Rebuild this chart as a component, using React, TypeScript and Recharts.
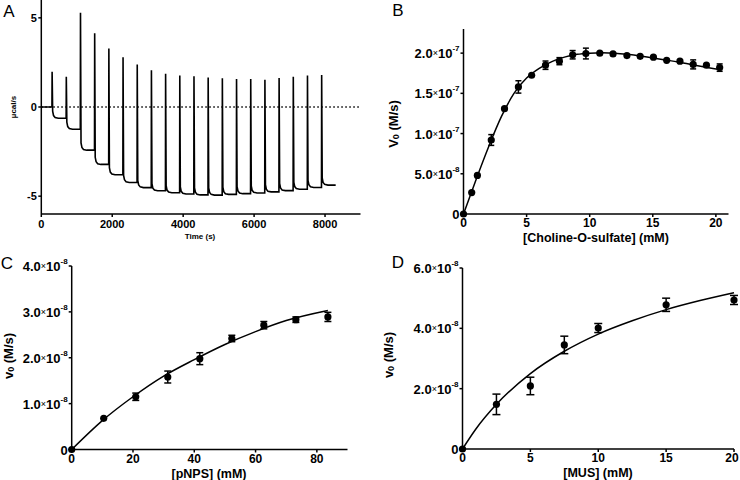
import React from 'react'
import { ComposedChart, LineChart, Line, Scatter, ErrorBar, XAxis, YAxis, ReferenceLine } from 'recharts'

const FONT = '"Liberation Sans", Arial, Helvetica, sans-serif'

// A: ITC thermogram, [time (s), power (µcal/s)]
const itcTrace: [number, number][] = [
    [0, 0], [300, 0],
    [305, 1.97], [320, -0.23], [345, -0.48], [390, -0.59], [480, -0.63],
    [700, -0.63], [705, 1.7], [720, -0.85], [745, -1.1], [790, -1.21], [880, -1.25],
    [1100, -1.25], [1105, 5.28], [1120, -2.02], [1145, -2.27], [1190, -2.38], [1280, -2.42],
    [1500, -2.42], [1505, 4.14], [1520, -2.82], [1545, -3.07], [1590, -3.18], [1680, -3.22],
    [1900, -3.22], [1905, 3.28], [1920, -3.4], [1945, -3.65], [1990, -3.76], [2080, -3.8],
    [2300, -3.8], [2305, 2.79], [2320, -3.83], [2345, -4.08], [2390, -4.19], [2480, -4.23],
    [2700, -4.23], [2705, 2.38], [2720, -4.12], [2745, -4.37], [2790, -4.48], [2880, -4.52],
    [3100, -4.52], [3105, 2.06], [3120, -4.3], [3145, -4.55], [3190, -4.66], [3280, -4.7],
    [3500, -4.7], [3505, 1.87], [3520, -4.41], [3545, -4.66], [3590, -4.77], [3680, -4.81],
    [3900, -4.81], [3905, 1.76], [3920, -4.48], [3945, -4.73], [3990, -4.84], [4080, -4.88],
    [4300, -4.88], [4305, 1.72], [4320, -4.53], [4345, -4.78], [4390, -4.89], [4480, -4.93],
    [4700, -4.93], [4705, 1.65], [4720, -4.54], [4745, -4.79], [4790, -4.9], [4880, -4.94],
    [5100, -4.94], [5105, 1.61], [5120, -4.5], [5145, -4.75], [5190, -4.86], [5280, -4.9],
    [5500, -4.9], [5505, 1.57], [5520, -4.46], [5545, -4.71], [5590, -4.82], [5680, -4.86],
    [5900, -4.86], [5905, 1.57], [5920, -4.42], [5945, -4.67], [5990, -4.78], [6080, -4.82],
    [6300, -4.82], [6305, 1.53], [6320, -4.36], [6345, -4.61], [6390, -4.72], [6480, -4.76],
    [6700, -4.76], [6705, 1.63], [6720, -4.29], [6745, -4.54], [6790, -4.65], [6880, -4.69],
    [7100, -4.69], [7105, 1.7], [7120, -4.21], [7145, -4.46], [7190, -4.57], [7280, -4.61],
    [7500, -4.61], [7505, 1.76], [7520, -4.11], [7545, -4.36], [7590, -4.47], [7680, -4.51],
    [7900, -4.51], [7905, 1.8], [7920, -3.98], [7945, -4.23], [7990, -4.34], [8080, -4.38],
    [8300, -4.38],
]
const itcXTicks = [0, 2000, 4000, 6000, 8000]
const itcYTicks = [-5, 0, 5]

// B: choline-O-sulfate
const cosConc = [0, 0.65, 1.1, 2.2, 3.25, 4.35, 5.4, 6.5, 7.6, 8.65, 9.7, 10.8, 11.85, 12.95, 14.0, 15.05, 16.1, 17.15, 18.2, 19.25, 20.3]
const cosRate = [0, 2.66e-8, 4.79e-8, 9.2e-8, 1.31e-7, 1.58e-7, 1.725e-7, 1.85e-7, 1.9e-7, 1.98e-7, 1.995e-7, 2.0e-7, 1.99e-7, 1.97e-7, 1.96e-7, 1.95e-7, 1.91e-7, 1.9e-7, 1.86e-7, 1.85e-7, 1.82e-7]
const cosErr = [0, 0, 0, 0.67e-8, 0, 0.77e-8, 0, 0.52e-8, 0.44e-8, 0.52e-8, 0.67e-8, 0, 0, 0, 0, 0, 0, 0, 0.56e-8, 0, 0.46e-8]
const cosFitConc = [0, 1, 2, 3, 4, 5, 6, 7, 8, 9, 10, 11, 12, 13, 14, 15, 16, 17, 18, 19, 20.3]
const cosFitRate = [0, 4.3e-8, 8.4e-8, 1.21e-7, 1.5e-7, 1.69e-7, 1.81e-7, 1.895e-7, 1.95e-7, 1.985e-7, 2.0e-7, 2.005e-7, 2.0e-7, 1.985e-7, 1.965e-7, 1.94e-7, 1.915e-7, 1.89e-7, 1.86e-7, 1.83e-7, 1.795e-7]
const cosXTicks = [0, 5, 10, 15, 20]
const cosYTicks = [0, 5e-8, 1e-7, 1.5e-7, 2e-7]
const cosYLabels = [['0', ''], ['5.0', '-8'], ['1.0', '-7'], ['1.5', '-7'], ['2.0', '-7']]

// C: pNPS
const pnpsConc = [0, 10.45, 20.9, 31.35, 41.8, 52.25, 62.7, 73.15, 83.6]
const pnpsRate = [0, 0.68e-8, 1.15e-8, 1.58e-8, 1.98e-8, 2.42e-8, 2.71e-8, 2.83e-8, 2.89e-8]
const pnpsErr = [0, 0, 0.08e-8, 0.13e-8, 0.13e-8, 0.07e-8, 0.08e-8, 0.06e-8, 0.1e-8]
const pnpsFitConc = [0, 10, 20, 30, 40, 50, 60, 70, 83.6]
const pnpsFitRate = [0, 0.63e-8, 1.15e-8, 1.6e-8, 1.96e-8, 2.29e-8, 2.57e-8, 2.81e-8, 3.03e-8]
const pnpsXTicks = [0, 20, 40, 60, 80]
const pnpsYTicks = [0, 1e-8, 2e-8, 3e-8, 4e-8]
const pnpsYLabels = [['0', ''], ['1.0', '-8'], ['2.0', '-8'], ['3.0', '-8'], ['4.0', '-8']]

// D: MUS
const musConc = [0, 2.5, 5, 7.5, 10, 15, 20]
const musRate = [0, 1.48e-8, 2.09e-8, 3.45e-8, 4.01e-8, 4.78e-8, 4.94e-8]
const musErr = [0, 0.34e-8, 0.29e-8, 0.29e-8, 0.15e-8, 0.22e-8, 0.15e-8]
const musFitConc = [0, 1, 2.5, 5, 7.5, 10, 12.5, 15, 17.5, 20]
const musFitRate = [0, 0.67e-8, 1.48e-8, 2.5e-8, 3.24e-8, 3.81e-8, 4.25e-8, 4.62e-8, 4.92e-8, 5.18e-8]
const musXTicks = [0, 5, 10, 15, 20]
const musYTicks = [0, 2e-8, 4e-8, 6e-8]
const musYLabels = [['0', ''], ['2.0', '-8'], ['4.0', '-8'], ['6.0', '-8']]

const toPoints = (xs: number[], ys: number[], errs?: number[]) =>
    xs.map((x, i) => ({ x, y: ys[i], err: errs ? errs[i] : 0 }))

const XTick = ({ x, y, payload, size }: any) => (
    <text x={x} y={y} dy="0.71em" textAnchor="middle" fontFamily={FONT} fontSize={size} fontWeight="bold" fill="#000">
        {payload.value}
    </text>
)

const PlainYTick = ({ x, y, payload }: any) => (
    <text x={x} y={y} textAnchor="end" dominantBaseline="central" fontFamily={FONT} fontSize={11} fontWeight="bold" fill="#000">
        {payload.value}
    </text>
)

// y tick like "2.0×10-7" with superscript exponent
const SciTick = ({ x, y, payload, ticks, labels }: any) => {
    const i = ticks.findIndex((t: number) => Math.abs(t - payload.value) < 1e-12)
    const [m, e] = labels[i] || [String(payload.value), '']
    return (
        <text x={x} y={y} textAnchor="end" dominantBaseline="central" fontFamily={FONT} fill="#000">
            <tspan fontSize={13} fontWeight="bold">{m}</tspan>
            {e && <tspan fontSize={9}>×</tspan>}
            {e && <tspan fontSize={13} fontWeight="bold">10</tspan>}
            {e && <tspan fontSize={8} fontWeight="bold" dy={-5}>{e}</tspan>}
        </text>
    )
}

const Dot = (p: any) => <circle cx={p.cx} cy={p.cy} r={3.6} fill="#000" />

const axisStyle = { stroke: '#000', strokeWidth: 1.5 }

function KineticsPanel({ width, height, margin, yWidth, xHeight, xTickMargin, xDomain, yDomain, xTicks, yTicks, yLabels, points, fit, capWidth }: any) {
    return (
        <ComposedChart width={width} height={height} margin={margin}>
            <XAxis
                type="number"
                dataKey="x"
                domain={xDomain}
                ticks={xTicks}
                axisLine={axisStyle}
                tickLine={axisStyle}
                tickSize={3}
                tickMargin={xTickMargin}
                height={xHeight}
                tick={<XTick size={12} />}
            />
            <YAxis
                type="number"
                dataKey="y"
                domain={yDomain}
                ticks={yTicks}
                width={yWidth}
                axisLine={axisStyle}
                tickLine={axisStyle}
                tickSize={3}
                tickMargin={1}
                tick={<SciTick ticks={yTicks} labels={yLabels} />}
            />
            <Line data={fit} dataKey="y" type="monotone" stroke="#000" strokeWidth={1.5} dot={false} activeDot={false} isAnimationActive={false} />
            <Scatter data={points} dataKey="y" fill="#000" shape={Dot} isAnimationActive={false}>
                <ErrorBar dataKey="err" direction="y" width={capWidth} stroke="#000" strokeWidth={1.5} isAnimationActive={false} />
            </Scatter>
        </ComposedChart>
    )
}

export default function App() {
    const itcData = itcTrace.map(([t, v]) => ({ t, v }))
    const cosPoints = toPoints(cosConc, cosRate, cosErr)
    const cosFit = toPoints(cosFitConc, cosFitRate)
    const pnpsPoints = toPoints(pnpsConc, pnpsRate, pnpsErr)
    const pnpsFit = toPoints(pnpsFitConc, pnpsFitRate)
    const musPoints = toPoints(musConc, musRate, musErr)
    const musFit = toPoints(musFitConc, musFitRate)

    const bold = { fontFamily: FONT, fontWeight: 'bold' as const, fill: '#000' }

    return (
        <div style={{ position: 'absolute', left: 0, top: 0, width: 740, height: 480, background: '#fff', fontFamily: FONT }}>
            {/* A */}
            <div style={{ position: 'absolute', left: 0, top: 0 }}>
                <LineChart width={370} height={245} margin={{ top: 0, right: 9.5, left: 0, bottom: 0 }} data={itcData}>
                    <XAxis
                        type="number"
                        dataKey="t"
                        domain={[0, 9000]}
                        ticks={itcXTicks}
                        axisLine={axisStyle}
                        tickLine={axisStyle}
                        tickSize={3}
                        tickMargin={3.5}
                        height={31}
                        tick={<XTick size={11} />}
                    />
                    <YAxis
                        type="number"
                        domain={[-6, 6]}
                        ticks={itcYTicks}
                        width={41.3}
                        axisLine={axisStyle}
                        tickLine={axisStyle}
                        tickSize={3}
                        tickMargin={1.5}
                        tick={<PlainYTick />}
                    />
                    <ReferenceLine y={0} stroke="#000" strokeWidth={1.5} strokeDasharray="1.5 2.5" />
                    <Line dataKey="v" type="linear" stroke="#000" strokeWidth={1.6} dot={false} activeDot={false} isAnimationActive={false} />
                </LineChart>
            </div>

            {/* B */}
            <div style={{ position: 'absolute', left: 370, top: 0 }}>
                <KineticsPanel
                    width={370} height={245}
                    margin={{ top: 29, right: 11.5, left: 0, bottom: 0 }}
                    yWidth={93.5} xHeight={31} xTickMargin={1}
                    xDomain={[0, 21]} yDomain={[0, 2.3e-7]}
                    xTicks={cosXTicks} yTicks={cosYTicks} yLabels={cosYLabels}
                    points={cosPoints} fit={cosFit} capWidth={3}
                />
            </div>

            {/* C */}
            <div style={{ position: 'absolute', left: 0, top: 245 }}>
                <KineticsPanel
                    width={370} height={235}
                    margin={{ top: 21, right: 22.5, left: 0, bottom: 0 }}
                    yWidth={71.7} xHeight={30.5} xTickMargin={1.5}
                    xDomain={[0, 90]} yDomain={[0, 4e-8]}
                    xTicks={pnpsXTicks} yTicks={pnpsYTicks} yLabels={pnpsYLabels}
                    points={pnpsPoints} fit={pnpsFit} capWidth={3.5}
                />
            </div>

            {/* D */}
            <div style={{ position: 'absolute', left: 370, top: 245 }}>
                <KineticsPanel
                    width={370} height={235}
                    margin={{ top: 23, right: 6, left: 0, bottom: 0 }}
                    yWidth={92.5} xHeight={31} xTickMargin={1}
                    xDomain={[0, 20]} yDomain={[0, 6e-8]}
                    xTicks={musXTicks} yTicks={musYTicks} yLabels={musYLabels}
                    points={musPoints} fit={musFit} capWidth={4}
                />
            </div>

            {/* panel letters and axis titles */}
            <svg width={740} height={480} style={{ position: 'absolute', left: 0, top: 0, pointerEvents: 'none' }}>
                <g fontFamily={FONT} fontSize={17} fill="#000" textAnchor="middle" dominantBaseline="central">
                    <text x={9} y={11}>A</text>
                    <text x={398} y={10}>B</text>
                    <text x={7} y={263}>C</text>
                    <text x={398} y={262}>D</text>
                </g>
                <text {...bold} fontSize={8} x={13} y={107} textAnchor="middle" dominantBaseline="central" transform="rotate(-90 13 107)">µcal/s</text>
                <text {...bold} fontSize={8} x={200} y={236} textAnchor="middle" dominantBaseline="central">Time (s)</text>

                <text {...bold} fontSize={13} x={393} y={124} textAnchor="middle" dominantBaseline="central" transform="rotate(-90 393 124)">
                    V<tspan fontSize={9} dy={3}>0</tspan><tspan dy={-3}> (M/s)</tspan>
                </text>
                <text {...bold} fontSize={12.5} x={596} y={238} textAnchor="middle" dominantBaseline="central">[Choline-O-sulfate] (mM)</text>

                <text {...bold} fontSize={13} x={8} y={356} textAnchor="middle" dominantBaseline="central" transform="rotate(-90 8 356)">
                    v<tspan fontSize={9} dy={3}>0</tspan><tspan dy={-3}> (M/s)</tspan>
                </text>
                <text {...bold} fontSize={12.5} x={209} y={473.5} textAnchor="middle" dominantBaseline="central">[pNPS] (mM)</text>

                <text {...bold} fontSize={13} x={388} y={355} textAnchor="middle" dominantBaseline="central" transform="rotate(-90 388 355)">
                    v<tspan fontSize={9} dy={3}>0</tspan><tspan dy={-3}> (M/s)</tspan>
                </text>
                <text {...bold} fontSize={12.5} x={598} y={473} textAnchor="middle" dominantBaseline="central">[MUS] (mM)</text>
            </svg>
        </div>
    )
}
